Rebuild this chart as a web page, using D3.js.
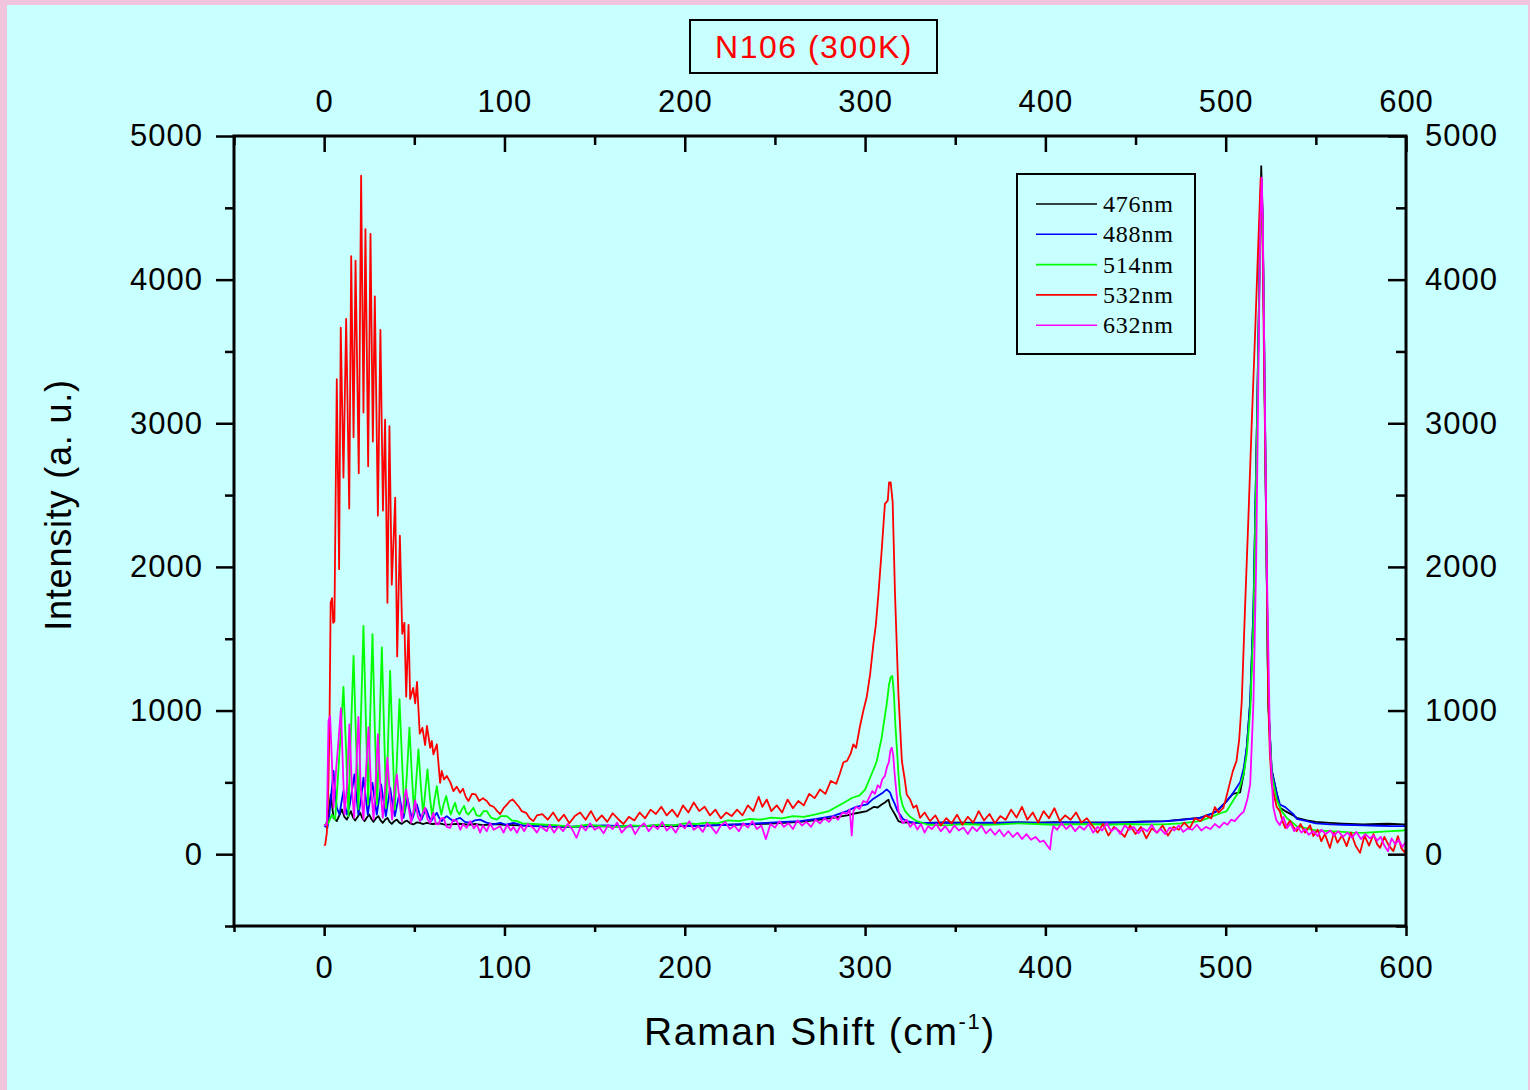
<!DOCTYPE html>
<html>
<head>
<meta charset="utf-8">
<script src="https://cdn.jsdelivr.net/npm/d3@7"></script>
<style>
  body { margin: 0; background: #f0c4dc; }
  svg { display: block; }
</style>
</head>
<body>
<div id="chart"></div>
<script>
var seriesNames = ["476nm", "488nm", "514nm", "532nm", "632nm"];
var seriesColors = ["#000000", "#0000ff", "#00ff00", "#ff0000", "#ff00ff"];
var xMajorTicks = [0, 100, 200, 300, 400, 500, 600];
var xMinorTicks = [-50, 50, 150, 250, 350, 450, 550];
var yMajorTicks = [0, 1000, 2000, 3000, 4000, 5000];
var yMinorTicks = [-500, 500, 1500, 2500, 3500, 4500];

// [Raman shift (cm-1), intensity (a.u.)]
var s476 = [[0,200],[1.1,207],[2.4,276],[3.7,416],[5.2,253],[7,230],[8.4,270],[9.8,312],[11.2,260],[12.6,241],[13.7,270],[14.8,300],[16,255],[17.2,234],[18.6,260],[20,288],[21.2,250],[22.4,230],[23.7,255],[25,276],[26.2,245],[27.4,225],[28.7,250],[30.1,265],[31.3,235],[32.5,218],[33.8,240],[35.1,253],[36.3,225],[37.5,211],[38.9,230],[40.3,241],[41.7,220],[43.1,211],[44.5,225],[45.9,234],[47.7,215],[49.5,207],[51.5,222],[53,218],[55,210],[56.9,218],[60,210],[64,215],[67,205],[69.9,207],[75,212],[80,205],[84,210],[88.3,202],[95,210],[100,205],[108,200],[116,195],[125,192],[135,190],[145,193],[155,195],[165,192],[175,195],[185,198],[195,196],[205,198],[215,200],[225,205],[235,208],[245,212],[255,218],[264,225],[273,238],[282,253],[290,270],[295,285],[301,300],[305,330],[307,325],[309.2,346],[311,360],[312,370],[313,380],[313.9,335],[315,310],[316.6,276],[318.5,230],[320,222],[325,220],[335,218],[345,222],[355,220],[365,218],[375,220],[385,222],[395,220],[405,223],[415,220],[425,222],[435,220],[445,223],[455,228],[467.3,230],[475,240],[485.8,253],[492,280],[495,300],[500.6,370],[504,420],[508,430],[510,560],[511.7,746],[513.6,1063],[515.4,1703],[517.3,2984],[518.6,3942],[519.7,4790],[520.4,4500],[521,3942],[522.4,2343],[523.6,1063],[525.5,586],[528.3,425],[530.1,323],[533,300],[537.5,270],[539.4,253],[545,235],[550,225],[557.8,218],[565,213],[576.3,207],[585,210],[590,212],[598.5,207],[600,207]];

var s488 = [[0,200],[1.8,183],[2.9,276],[4.2,450],[5.2,579],[6,450],[7,323],[8.5,276],[9.6,360],[10.7,439],[11.6,340],[12.6,276],[14,330],[15.5,450],[16.8,556],[17.9,400],[19,276],[20.4,380],[21.8,532],[23,400],[24.2,276],[25.5,390],[26.8,497],[28,380],[29.2,276],[30.4,380],[31.6,486],[32.9,370],[34.2,265],[35.4,360],[36.6,462],[37.9,350],[39.2,265],[40.4,340],[41.6,416],[42.8,330],[44,253],[45.1,320],[46.2,393],[47.5,310],[48.8,241],[50.1,290],[51.4,346],[52.7,290],[54,241],[55.3,280],[56.6,312],[58,265],[59.3,230],[60.9,260],[62.5,288],[63.9,250],[65.3,230],[66.6,250],[68,265],[70,245],[71.7,230],[73.5,245],[75.4,253],[78,225],[81,218],[83.5,235],[86.5,241],[90,220],[93.9,207],[97.6,218],[101,205],[105,218],[110,200],[116,195],[125,195],[135,190],[145,195],[155,200],[165,195],[175,195],[185,200],[195,200],[205,195],[215,200],[225,205],[235,210],[245,218],[255,225],[264,230],[273,245],[282,265],[290,300],[295,330],[301,346],[304,380],[308.3,416],[310,430],[312,451],[313.9,428],[315,390],[316.6,346],[318,300],[319.4,276],[321,245],[323.1,230],[327,220],[335,218],[345,220],[355,215],[365,220],[375,218],[385,222],[395,218],[405,220],[415,223],[425,218],[435,222],[445,220],[455,225],[465,228],[475,238],[485.8,253],[492,280],[495,300],[500.6,370],[504,425],[508,500],[510,600],[511.7,746],[513.6,1063],[515.4,1703],[517.3,2984],[518.6,3942],[519.6,4700],[520.3,4500],[521,3942],[522.4,2343],[523.6,1063],[525.5,586],[528.3,425],[530.1,346],[533,328],[537.5,279],[539.4,246],[545,230],[550,215],[557.8,207],[565,205],[576.3,200],[585,198],[592,195],[600,195]];

var s514 = [[0,200],[2.4,218],[4.3,276],[6.1,241],[8,602],[10.7,1165],[12.2,718],[13.5,265],[14.8,835],[16.3,1381],[17.7,788],[19,312],[20.4,951],[21.8,1590],[23.1,951],[24.4,346],[25.5,951],[26.8,1532],[28.1,881],[29.4,346],[30.7,881],[32,1439],[33.3,835],[34.4,323],[35.5,800],[36.6,1276],[37.9,760],[39.2,312],[40.5,700],[41.8,1079],[43.2,650],[44.5,288],[45.9,560],[47.3,881],[48.6,560],[49.9,288],[51.1,520],[52.3,730],[53.6,480],[54.9,276],[56.1,440],[57.3,590],[58.6,400],[59.9,265],[61.2,380],[62.5,474],[63.8,350],[65,276],[66.3,350],[67.7,404],[69,330],[70.2,276],[71.4,320],[72.6,358],[73.8,300],[75,276],[76.3,310],[77.6,335],[78.8,290],[80,276],[82.8,323],[84.5,270],[86.5,265],[88.5,300],[90.2,300],[92.5,255],[95.8,241],[98,265],[101.3,265],[104,235],[106.9,230],[110,215],[116,210],[123,205],[130,200],[138,190],[146,205],[154,195],[162,190],[170,200],[178,195],[186,205],[194,200],[200,215],[206,210],[212,220],[218,215],[224,235],[230,230],[236,245],[242,240],[248,255],[254,250],[260,265],[266,260],[272,275],[280,300],[287,350],[293,393],[297,410],[300,450],[302.8,532],[305,600],[306.5,649],[308,740],[309.2,811],[310.6,930],[312,1044],[313.3,1183],[314.2,1230],[315.1,1241],[316,1114],[316.8,900],[317.5,765],[318.5,560],[319.4,416],[320.8,340],[322.2,300],[325,260],[328.7,230],[335,205],[345,200],[355,210],[365,205],[375,207],[385,215],[395,210],[405,205],[415,207],[425,210],[435,205],[445,210],[455,208],[465,207],[475,215],[485.8,230],[492,260],[497,285],[500.6,300],[504,370],[507,430],[510,560],[511.7,700],[513.6,1000],[515.4,1600],[517.3,2900],[518.6,3900],[519.6,4650],[520.3,4400],[521,3942],[522.2,2600],[523.6,1063],[525.5,560],[528.3,380],[531,300],[534,250],[537.5,215],[539.4,195],[545,180],[550,165],[557.8,160],[565,155],[570,150],[576.3,149],[585,155],[592,160],[598.5,165],[600,170]];

var s532 = [[0,60],[0.6,67],[1.5,150],[2.4,500],[3,941],[3.6,1750],[4.4,1782],[5,1611],[5.7,1620],[7,3307],[8.3,1984],[9.2,3665],[10.7,2622],[12.2,3727],[13.9,2406],[15,4163],[16.3,2902],[17.4,4132],[19.2,2652],[20.5,4724],[21.8,3075],[22.9,4351],[24.4,2700],[25.7,4319],[27,2873],[28.1,3884],[29.8,2357],[31.2,3650],[32.6,2392],[33.8,3026],[35.1,1750],[36.2,2980],[37.5,1876],[39.4,2482],[40.5,1377],[42,2217],[43.3,1534],[44.5,1611],[45.5,1097],[46.8,1597],[47.7,1081],[49.4,1158],[50.5,1050],[51.5,1200],[53,840],[54.5,880],[56,760],[57,893],[58.8,741],[59.7,788],[60.6,695],[62.5,765],[64.3,497],[65.2,579],[66.5,520],[68,544],[70,500],[71.7,439],[73.5,470],[75.4,428],[77,455],[78.5,400],[80,370],[82,420],[84,416],[86,370],[88,390],[90.2,370],[92,340],[94,330],[96,300],[97.6,279],[99.5,320],[101,340],[103,370],[104.5,381],[106,360],[108,330],[109.5,300],[112,288],[114,250],[116,230],[118,270],[121,279],[124,240],[127,290],[130,230],[133,275],[136,215],[139,265],[142,290],[145,240],[148,300],[151,230],[154,270],[157,225],[160,285],[163,245],[166,210],[169,260],[172,235],[175,290],[178,250],[181,310],[184,280],[187,330],[190,270],[193,310],[196,260],[199,340],[202,290],[205,360],[208,300],[211,330],[214,270],[217,310],[220,250],[223,290],[226,265],[229,310],[232,270],[235,340],[238,300],[241,400],[243,330],[245.5,380],[248,300],[251,340],[254,290],[257,380],[260,320],[263,370],[266,340],[269,420],[272,390],[275,450],[278,420],[281,510],[284,490],[286,560],[288,640],[290,649],[292,700],[293.5,765],[295,740],[297,880],[299,997],[301,1100],[302.8,1253],[304.6,1462],[306,1600],[307.4,1811],[309.2,2113],[311,2439],[312.6,2462],[313.3,2589],[314.2,2589],[315.3,2450],[316.6,1811],[318.5,1114],[320.4,649],[322,520],[323.1,416],[325,380],[326.8,323],[328.5,340],[330.5,253],[333,290],[336,230],[339,270],[342,200],[345,250],[348,215],[351,275],[354,205],[357,260],[360,220],[363,300],[366,235],[369,280],[372,215],[375,265],[378,240],[381,310],[384,255],[387,330],[390,240],[393,290],[396,220],[399,300],[402,250],[405,320],[408,230],[411,270],[414,240],[417,290],[420,220],[423,250],[426,200],[429,150],[432,210],[435,130],[438,190],[441,160],[444,120],[447,200],[450,140],[453,190],[456,110],[459,180],[462,150],[465,200],[468,130],[471,190],[474,170],[477,220],[480,180],[483,250],[486,230],[489,270],[492,250],[494,328],[496,290],[498.7,323],[500,380],[502.4,500],[504,580],[506,649],[507.5,800],[508.9,1063],[510.7,1703],[512.6,2343],[514.4,2984],[516.3,3622],[518.1,4262],[519.4,4710],[520.3,4450],[521.2,3500],[522.4,2343],[523.6,1063],[524.5,700],[525.5,488],[527,400],[528.3,328],[530,300],[531.5,230],[533,183],[535.7,232],[537.5,190],[539.4,160],[541.5,210],[544,150],[546.8,202],[548.6,126],[551,170],[553,90],[555,140],[557.8,44],[560,150],[562,80],[564.5,130],[567.1,56],[569.5,150],[572,60],[574.5,9],[577,130],[579.5,60],[582,140],[584,70],[585.6,44],[588,120],[590.5,60],[593,21],[595.5,126],[597.5,40],[599.5,9],[600,60]];

var s632 = [[0,200],[1.5,207],[2.4,927],[3.3,962],[4.3,649],[5.2,323],[6.7,602],[7.8,767],[9.3,1016],[10.4,602],[11.3,277],[12.6,462],[14,904],[15.4,462],[16.6,253],[17.7,556],[19,955],[20.3,462],[21.8,241],[23.1,556],[24.6,885],[26,462],[27.4,241],[28.7,532],[29.8,835],[31.2,462],[32.5,253],[33.8,462],[35.1,672],[36.4,420],[37.7,241],[39,439],[40.3,556],[41.7,380],[43.1,230],[44.4,393],[45.5,451],[46.8,330],[48.2,218],[49.5,300],[50.5,374],[52,260],[53.2,230],[54.5,280],[56,323],[57.4,240],[58.8,218],[60.6,288],[62,210],[63.4,207],[64.8,250],[66.2,253],[68,190],[69.9,183],[71.5,240],[73.6,230],[75.5,170],[77,210],[79.1,183],[81,230],[83,180],[84.7,207],[86.5,150],[88,200],[90.2,160],[92,215],[94,170],[97.6,195],[99.5,150],[101.5,205],[103.5,165],[105,190],[106.9,149],[109,200],[111,160],[113,210],[116,183],[118,150],[120,195],[123.5,160],[125,205],[127.5,150],[130,195],[132.5,160],[135,210],[137.5,175],[140,114],[142.5,200],[145,165],[147.5,215],[150,170],[152.5,190],[155,145],[157.5,205],[160,175],[162.5,220],[165,150],[167.5,185],[170,205],[172.5,140],[175,190],[177.5,215],[180,160],[182.5,200],[185,175],[187.5,225],[190,165],[192.5,195],[195,150],[197.5,210],[200,180],[202.5,230],[205,170],[207.5,195],[210,155],[212.5,215],[215,185],[217.5,145],[220,200],[222.5,225],[225,175],[227.5,200],[230,160],[232.5,215],[235,185],[237.5,230],[240,175],[242.5,200],[245,105],[247.5,210],[250,185],[252.5,230],[255,190],[257.5,215],[260,175],[262.5,235],[265,200],[267.5,225],[270,190],[272.5,240],[275,215],[277.5,250],[280,225],[282.5,265],[285,240],[287.5,290],[290,280],[291.5,310],[292.6,130],[293.5,300],[295,330],[297,315],[299,370],[301,360],[302.5,400],[304,439],[305.5,420],[307,480],[308.3,462],[309.5,520],[311,545],[312.2,610],[313.2,640],[314,720],[314.8,741],[315.6,690],[316.4,560],[317.5,416],[318.5,300],[319.5,253],[321,215],[323,240],[325,190],[327,220],[329,172],[331,210],[333,150],[335,195],[337,175],[339.5,210],[342,160],[344.5,195],[347,150],[349.5,200],[352,165],[354.5,185],[357,140],[359.5,190],[362,160],[364.5,200],[367,145],[369.5,175],[372,135],[374.5,170],[377,125],[379.5,160],[382,120],[384.5,150],[387,105],[389.5,140],[392,100],[394.5,120],[397,85],[399,95],[401,60],[402.6,33],[403.5,140],[404.4,195],[406.5,170],[409,215],[411.5,175],[414,205],[416.5,160],[419,195],[421.5,170],[424,210],[426.5,150],[429,190],[431.5,165],[434,215],[436.5,160],[439,185],[441.5,140],[444,200],[446.5,170],[449,190],[451.5,145],[454,180],[456.5,160],[459,205],[461.5,150],[464,175],[466.5,140],[469,185],[471.5,165],[474,200],[476.5,155],[479,180],[481.5,170],[484,205],[486.5,165],[489,190],[491.5,175],[494,210],[496.5,185],[499,220],[501,205],[503,240],[505,230],[507,260],[508.5,280],[510,296],[512,380],[513.6,488],[515.4,1063],[516.9,2022],[518.1,3303],[519.2,4400],[520,4710],[520.6,4400],[521.3,3622],[522.8,2022],[524.6,746],[526.4,328],[528,240],[530,202],[532,260],[534,180],[536,215],[538,160],[540,190],[542,150],[544,175],[546,135],[548.6,160],[551,125],[553,170],[555.5,140],[558,165],[560,130],[562.5,160],[565,120],[567.5,150],[570,115],[572.5,155],[575,105],[577.5,140],[580,110],[582,130],[584,95],[586,120],[588,60],[590,20],[592,110],[594,70],[596,100],[598,50],[600,90]];

var allSeries = [s476, s488, s514, s532, s632];

var width = 1530;
var height = 1090;
var plotLeft = 234, plotRight = 1406, plotTop = 136, plotBottom = 926;
var tickFont = "'Liberation Sans', Arial, sans-serif";

var svg = d3.select("#chart")
    .append("svg")
    .attr("width", width)
    .attr("height", height);

svg.append("rect")
    .attr("x", 0).attr("y", 0)
    .attr("width", width).attr("height", height)
    .attr("fill", "#f0c4dc");

svg.append("rect")
    .attr("x", 7).attr("y", 5)
    .attr("width", 1521).attr("height", 1085)
    .attr("fill", "#c8ffff");

var x = d3.scaleLinear().domain([-50, 600]).range([plotLeft, plotRight]);
var y = d3.scaleLinear().domain([-500, 5000]).range([plotBottom, plotTop]);

svg.append("defs").append("clipPath")
    .attr("id", "plot-clip")
    .append("rect")
    .attr("x", plotLeft).attr("y", plotTop)
    .attr("width", plotRight - plotLeft).attr("height", plotBottom - plotTop);

var line = d3.line()
    .x(function (d) { return x(d[0]); })
    .y(function (d) { return y(d[1]); });

var lines = svg.append("g").attr("clip-path", "url(#plot-clip)");
allSeries.forEach(function (s, i) {
    lines.append("path")
        .datum(s)
        .attr("fill", "none")
        .attr("stroke", seriesColors[i])
        .attr("stroke-width", 1.8)
        .attr("stroke-linejoin", "round")
        .attr("d", line);
});

function styleAxis(g) {
    g.select(".domain").remove();
    g.selectAll(".tick line").attr("stroke", "#000").attr("stroke-width", 2.5);
    g.selectAll(".tick text")
        .attr("fill", "#000")
        .style("font-family", tickFont)
        .style("font-size", "31px")
        .style("letter-spacing", "1px");
}

// bottom
svg.append("g").attr("transform", "translate(0," + plotBottom + ")")
    .call(d3.axisBottom(x).tickValues(xMajorTicks).tickSize(10).tickPadding(20).tickFormat(d3.format("d")))
    .call(styleAxis);
svg.append("g").attr("transform", "translate(0," + plotBottom + ")")
    .call(d3.axisBottom(x).tickValues(xMinorTicks).tickSize(6).tickFormat(""))
    .call(styleAxis);

// top
svg.append("g").attr("transform", "translate(0," + plotTop + ")")
    .call(d3.axisTop(x).tickValues(xMajorTicks).tickSize(-16).tickPadding(24).tickFormat(d3.format("d")))
    .call(styleAxis);
svg.append("g").attr("transform", "translate(0," + plotTop + ")")
    .call(d3.axisTop(x).tickValues(xMinorTicks).tickSize(-9).tickFormat(""))
    .call(styleAxis);

// left
svg.append("g").attr("transform", "translate(" + plotLeft + ",0)")
    .call(d3.axisLeft(y).tickValues(yMajorTicks).tickSize(18).tickPadding(13).tickFormat(d3.format("d")))
    .call(styleAxis);
svg.append("g").attr("transform", "translate(" + plotLeft + ",0)")
    .call(d3.axisLeft(y).tickValues(yMinorTicks).tickSize(9).tickFormat(""))
    .call(styleAxis);

// right
svg.append("g").attr("transform", "translate(" + plotRight + ",0)")
    .call(d3.axisRight(y).tickValues(yMajorTicks).tickSize(-18).tickPadding(19).tickFormat(d3.format("d")))
    .call(styleAxis);
svg.append("g").attr("transform", "translate(" + plotRight + ",0)")
    .call(d3.axisRight(y).tickValues(yMinorTicks).tickSize(-10).tickFormat(""))
    .call(styleAxis);

svg.append("rect")
    .attr("x", plotLeft).attr("y", plotTop)
    .attr("width", plotRight - plotLeft).attr("height", plotBottom - plotTop)
    .attr("fill", "none")
    .attr("stroke", "#000")
    .attr("stroke-width", 3);

// title box
svg.append("rect")
    .attr("x", 690).attr("y", 20)
    .attr("width", 247).attr("height", 53)
    .attr("fill", "none")
    .attr("stroke", "#000")
    .attr("stroke-width", 2);
svg.append("text")
    .attr("x", 814).attr("y", 58)
    .attr("text-anchor", "middle")
    .attr("fill", "#ff0000")
    .style("font-family", tickFont)
    .style("font-size", "32px")
    .style("letter-spacing", "1.5px")
    .text("N106 (300K)");

// axis titles
var xTitle = svg.append("text")
    .attr("x", 820).attr("y", 1045)
    .attr("text-anchor", "middle")
    .attr("fill", "#000")
    .style("font-family", tickFont)
    .style("font-size", "39px")
    .style("letter-spacing", "1.6px");
xTitle.append("tspan").text("Raman Shift (cm");
xTitle.append("tspan").attr("dy", -16).style("font-size", "22px").text("-1");
xTitle.append("tspan").attr("dy", 16).text(")");

svg.append("text")
    .attr("transform", "translate(71,505) rotate(-90)")
    .attr("text-anchor", "middle")
    .attr("fill", "#000")
    .style("font-family", tickFont)
    .style("font-size", "36px")
    .style("letter-spacing", "0.8px")
    .text("Intensity (a. u.)");

// legend
var legend = svg.append("g");
legend.append("rect")
    .attr("x", 1017).attr("y", 174)
    .attr("width", 178).attr("height", 180)
    .attr("fill", "none")
    .attr("stroke", "#000")
    .attr("stroke-width", 2);
seriesNames.forEach(function (name, i) {
    var ly = 204 + i * 30.3;
    legend.append("line")
        .attr("x1", 1036).attr("x2", 1097)
        .attr("y1", ly).attr("y2", ly)
        .attr("stroke", seriesColors[i])
        .attr("stroke-width", 1.6);
    legend.append("text")
        .attr("x", 1103).attr("y", ly + 8)
        .attr("fill", "#000")
        .style("font-family", "'Liberation Serif', 'Times New Roman', serif")
        .style("font-size", "24px")
        .style("letter-spacing", "0.8px")
        .text(name);
});
</script>
</body>
</html>
